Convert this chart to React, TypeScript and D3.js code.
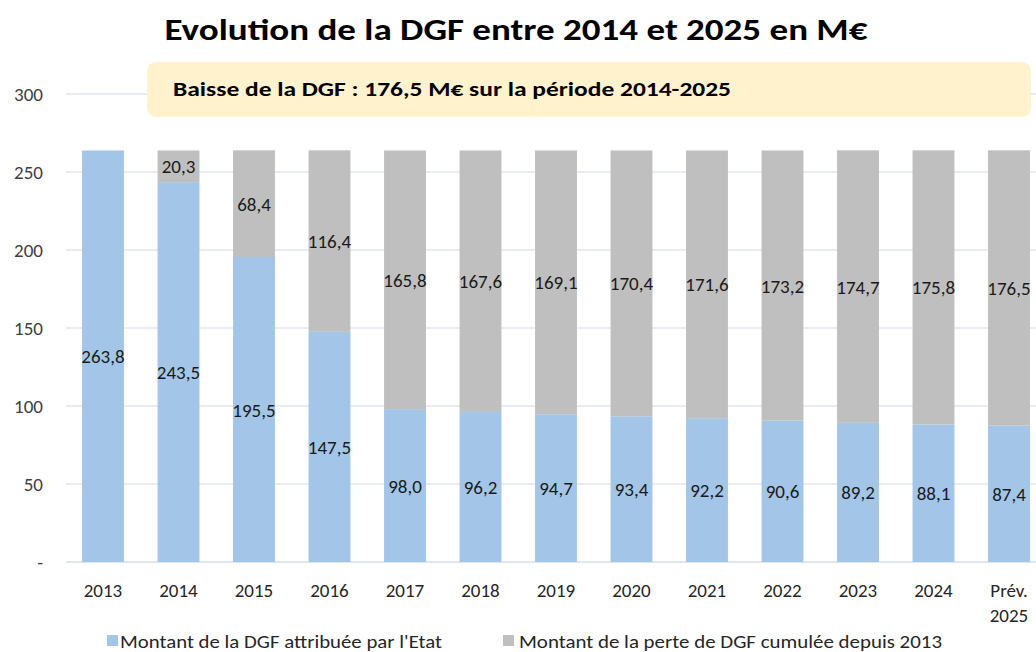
import React from "react";
import * as d3 from "d3";

const categories = ["2013", "2014", "2015", "2016", "2017", "2018", "2019", "2020", "2021", "2022", "2023", "2024", "Prév.\n2025"];
const dgfValues = [263.8, 243.5, 195.5, 147.5, 98.0, 96.2, 94.7, 93.4, 92.2, 90.6, 89.2, 88.1, 87.4];
const lossValues = [0, 20.3, 68.4, 116.4, 165.8, 167.6, 169.1, 170.4, 171.6, 173.2, 174.7, 175.8, 176.5];
const yTicks = [0, 50, 100, 150, 200, 250, 300];
const seriesNames = ["Montant de la DGF attribuée par l'Etat", "Montant de la perte de DGF cumulée depuis 2013"];
const title = "Evolution de la DGF entre 2014 et 2025 en M€";
const note = "Baisse de la DGF : 176,5 M€ sur la période 2014-2025";

const W = 1036, H = 652;
const BLUE = "#A3C5E8";
const GRAY = "#BFBFBF";
const FONT = "Carlito, Calibri, 'Open Sans', 'Noto Sans', sans-serif";

const fmt = (v: number) => v.toFixed(1).replace(".", ",");

export default function App() {
  const x = d3.scaleBand<string>().domain(categories).range([65.25, 65.25 + 13 * 75.5]).paddingInner(0.445).paddingOuter(0.2225);
  const y = d3.scaleLinear().domain([0, 300]).range([562, 94]);
  const stack = categories.map((c, i) => ({ c, dgf: dgfValues[i], loss: lossValues[i] }));

  return (
    <svg width={W} height={H} style={{ position: "absolute", left: 0, top: 0, background: "#fff" }} fontFamily={FONT}>
      <text x={516} y={40} textAnchor="middle" fontSize={31} fontWeight="bold" fill="#000" textLength={703} lengthAdjust="spacingAndGlyphs">{title}</text>
      {yTicks.map(t => (
        <g key={t}>
          <line x1={66} x2={W} y1={y(t)} y2={y(t)} stroke="#E1E6EE" strokeWidth={t === 0 ? 2 : 1.5} />
          <text x={43} y={y(t) + 7} textAnchor="end" fontSize={19} fill="#404040">{t === 0 ? "-" : t}</text>
        </g>
      ))}
      <rect x={147} y={62} width={884} height={55} rx={9} ry={9} fill="#FFF2CC" />
      <text x={173} y={96} fontSize={20} fontWeight="bold" fill="#000" textLength={558} lengthAdjust="spacingAndGlyphs">{note}</text>
      {stack.map(d => {
        const bx = x(d.c)!;
        const bw = x.bandwidth();
        const cx = bx + bw / 2;
        const yDgf = y(d.dgf);
        const yTop = y(d.dgf + d.loss);
        const lines = d.c.split("\n");
        return (
          <g key={d.c}>
            <rect x={bx} y={yDgf} width={bw} height={y(0) - yDgf} fill={BLUE} />
            {d.loss > 0 && <rect x={bx} y={yTop} width={bw} height={yDgf - yTop} fill={GRAY} />}
            <text x={cx} y={(yDgf + y(0)) / 2 + 7} textAnchor="middle" fontSize={19} fill="#1a1a1a">{fmt(d.dgf)}</text>
            {d.loss > 0 && <text x={cx} y={(yTop + yDgf) / 2 + 7} textAnchor="middle" fontSize={19} fill="#1a1a1a">{fmt(d.loss)}</text>}
            {lines.map((l, j) => (
              <text key={j} x={cx} y={597 + j * 25} textAnchor="middle" fontSize={19} fill="#262626">{l}</text>
            ))}
          </g>
        );
      })}
      <rect x={107} y={635} width={11} height={11} fill={BLUE} />
      <text x={120} y={648} fontSize={19} fill="#262626" textLength={322} lengthAdjust="spacingAndGlyphs">{seriesNames[0]}</text>
      <rect x={503} y={635} width={11} height={11} fill={GRAY} />
      <text x={519} y={648} fontSize={19} fill="#262626" textLength={423} lengthAdjust="spacingAndGlyphs">{seriesNames[1]}</text>
    </svg>
  );
}
